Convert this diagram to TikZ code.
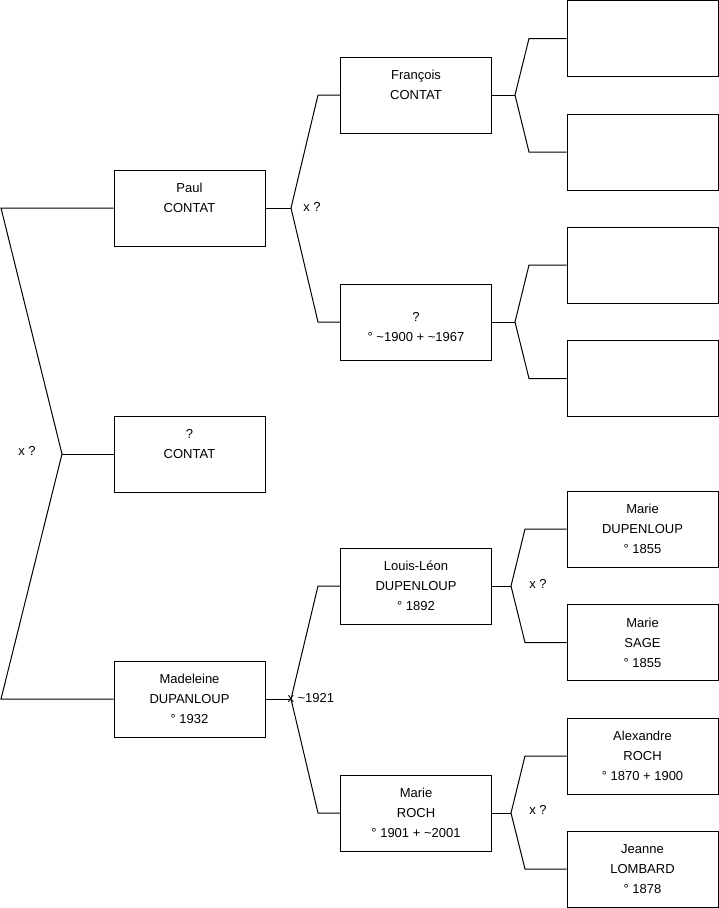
\documentclass[tikz,border=0pt]{standalone}
\usepackage{fontspec}
\setmainfont{Liberation Sans}
\begin{document}
\begin{tikzpicture}[x=1pt,y=-1pt,line width=1pt,
  person/.style={draw=black,fill=white,rectangle,minimum width=151pt,minimum height=76pt,inner sep=0pt,align=center,font=\fontsize{13}{20}\selectfont},
  lbl/.style={font=\fontsize{13}{20}\selectfont,inner sep=0pt},
  conn/.style={draw=black,line width=1pt}]
\useasboundingbox (0,0) rectangle (719,908);
% level 1
\node[person] (paul) at (189.5,208) {Paul\\CONTAT\\\mbox{}};
\node[person] (unk) at (189.5,454) {?\\CONTAT\\\mbox{}};
\node[person] (mad) at (189.5,699) {Madeleine\\DUPANLOUP\\° 1932};
% level 2
\node[person] (fran) at (416,95) {François\\CONTAT\\\mbox{}};
\node[person] (unk2) at (416,322) {\mbox{}\\?\\° \textasciitilde1900 + \textasciitilde1967};
\node[person] (louis) at (416,586) {Louis-Léon\\DUPENLOUP\\° 1892};
\node[person] (roch) at (416,813) {Marie\\ROCH\\° 1901 + \textasciitilde2001};
% level 3
\node[person] (e1) at (642.5,38.5) {};
\node[person] (e2) at (642.5,152) {};
\node[person] (e3) at (642.5,265) {};
\node[person] (e4) at (642.5,378.5) {};
\node[person] (mdup) at (642.5,529) {Marie\\DUPENLOUP\\° 1855};
\node[person] (msage) at (642.5,642.5) {Marie\\SAGE\\° 1855};
\node[person] (alex) at (642.5,756) {Alexandre\\ROCH\\° 1870 + 1900};
\node[person] (jean) at (642.5,869) {Jeanne\\LOMBARD\\° 1878};
% root bracket
\coordinate (r) at (62,454);
\coordinate (rt) at (1,208);
\coordinate (rb) at (1,699);
\draw[conn] (paul.west) -- (rt) -- (r) -- (rb) -- (mad.west);
\draw[conn] (r) -- (unk.west);
\node[lbl] (l0) at (27,451) {x ?};
% Paul bracket
\coordinate (pa) at (291,208);
\coordinate (pt) at (318,95);
\coordinate (pb) at (318,322);
\draw[conn] (paul.east) -- (pa);
\draw[conn] (fran.west) -- (pt) -- (pa) -- (pb) -- (unk2.west);
\node[lbl] (l1) at (312,207) {x ?};
% Madeleine bracket
\coordinate (ma) at (291,699);
\coordinate (mt) at (318,586);
\coordinate (mb) at (318,813);
\draw[conn] (mad.east) -- (ma);
\draw[conn] (louis.west) -- (mt) -- (ma) -- (mb) -- (roch.west);
\node[lbl,anchor=west] (l2) at (287,698) {x \textasciitilde1921};
% François bracket
\coordinate (fa) at (515,95);
\coordinate (ft) at (529,38.5);
\coordinate (fb) at (529,152);
\draw[conn] (fran.east) -- (fa);
\draw[conn] (e1.west) -- (ft) -- (fa) -- (fb) -- (e2.west);
% ? bracket
\coordinate (ua) at (515,322);
\coordinate (ut) at (529,265);
\coordinate (ub) at (529,378.5);
\draw[conn] (unk2.east) -- (ua);
\draw[conn] (e3.west) -- (ut) -- (ua) -- (ub) -- (e4.west);
% Louis bracket
\coordinate (la) at (511,586);
\coordinate (lt) at (525,529);
\coordinate (lb) at (525,642.5);
\draw[conn] (louis.east) -- (la);
\draw[conn] (mdup.west) -- (lt) -- (la) -- (lb) -- (msage.west);
\node[lbl] (l3) at (538,584) {x ?};
% Roch bracket
\coordinate (ra) at (511,813);
\coordinate (rtt) at (525,756);
\coordinate (rbb) at (525,869);
\draw[conn] (roch.east) -- (ra);
\draw[conn] (alex.west) -- (rtt) -- (ra) -- (rbb) -- (jean.west);
\node[lbl] (l4) at (538,810) {x ?};
\end{tikzpicture}
\end{document}
